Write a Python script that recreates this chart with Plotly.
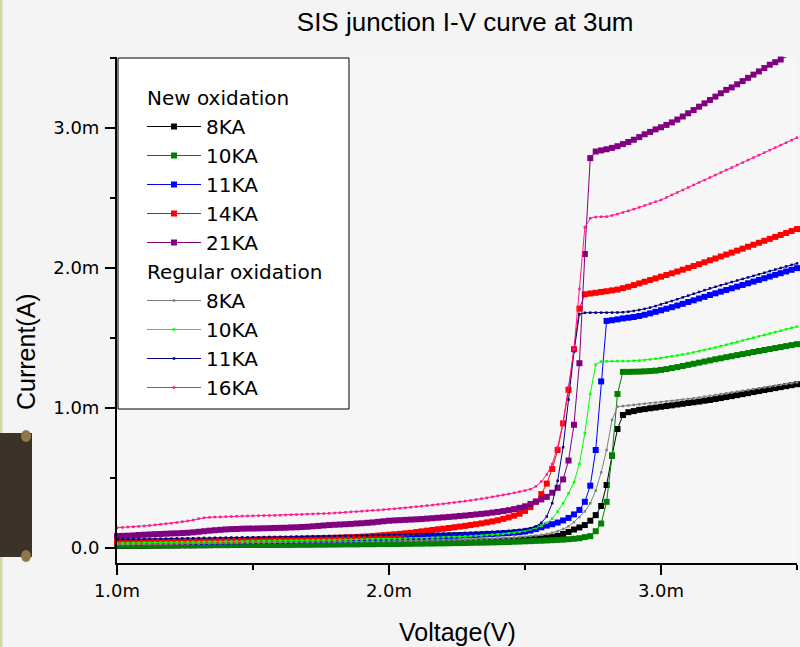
import plotly.graph_objects as go

# ---------------- data (voltage in mV, current in mA) ----------------
voltage_mV = [
    1.00, 1.02, 1.04, 1.06, 1.08, 1.10, 1.12, 1.14, 1.16, 1.18,
    1.20, 1.22, 1.24, 1.26, 1.28, 1.30, 1.32, 1.34, 1.36, 1.38,
    1.40, 1.42, 1.44, 1.46, 1.48, 1.50, 1.52, 1.54, 1.56, 1.58,
    1.60, 1.62, 1.64, 1.66, 1.68, 1.70, 1.72, 1.74, 1.76, 1.78,
    1.80, 1.82, 1.84, 1.86, 1.88, 1.90, 1.92, 1.94, 1.96, 1.98,
    2.00, 2.02, 2.04, 2.06, 2.08, 2.10, 2.12, 2.14, 2.16, 2.18,
    2.20, 2.22, 2.24, 2.26, 2.28, 2.30, 2.32, 2.34, 2.36, 2.38,
    2.40, 2.42, 2.44, 2.46, 2.48, 2.50, 2.52, 2.54, 2.56, 2.58,
    2.60, 2.62, 2.64, 2.66, 2.68, 2.70, 2.72, 2.74, 2.76, 2.78,
    2.80, 2.82, 2.84, 2.86, 2.88, 2.90, 2.92, 2.94, 2.96, 2.98,
    3.00, 3.02, 3.04, 3.06, 3.08, 3.10, 3.12, 3.14, 3.16, 3.18,
    3.20, 3.22, 3.24, 3.26, 3.28, 3.30, 3.32, 3.34, 3.36, 3.38,
    3.40, 3.42, 3.44, 3.46, 3.48, 3.50,
]

# New oxidation
new_8KA = [
    0.015, 0.015, 0.015, 0.016, 0.016, 0.016, 0.017, 0.017, 0.017, 0.018,
    0.018, 0.018, 0.019, 0.019, 0.019, 0.020, 0.020, 0.020, 0.021, 0.021,
    0.021, 0.022, 0.022, 0.022, 0.023, 0.023, 0.023, 0.024, 0.024, 0.024,
    0.025, 0.025, 0.025, 0.026, 0.026, 0.026, 0.027, 0.027, 0.027, 0.028,
    0.028, 0.029, 0.029, 0.030, 0.030, 0.031, 0.031, 0.032, 0.032, 0.033,
    0.033, 0.034, 0.034, 0.035, 0.035, 0.036, 0.037, 0.037, 0.038, 0.039,
    0.039, 0.040, 0.041, 0.042, 0.043, 0.044, 0.045, 0.046, 0.047, 0.049,
    0.050, 0.052, 0.054, 0.056, 0.058, 0.060, 0.063, 0.066, 0.069, 0.073,
    0.078, 0.087, 0.100, 0.115, 0.132, 0.147, 0.164, 0.195, 0.235, 0.300,
    0.450, 0.660, 0.850, 0.950, 0.970, 0.978, 0.987, 0.992, 0.998, 1.003,
    1.009, 1.014, 1.019, 1.025, 1.030, 1.036, 1.041, 1.046, 1.052, 1.057,
    1.064, 1.071, 1.078, 1.085, 1.092, 1.099, 1.106, 1.114, 1.121, 1.128,
    1.135, 1.142, 1.149, 1.156, 1.163, 1.170,
]
new_10KA = [
    0.017, 0.017, 0.017, 0.018, 0.018, 0.018, 0.018, 0.019, 0.019, 0.019,
    0.019, 0.019, 0.020, 0.020, 0.020, 0.020, 0.020, 0.021, 0.021, 0.021,
    0.021, 0.021, 0.022, 0.022, 0.022, 0.022, 0.022, 0.023, 0.023, 0.023,
    0.023, 0.023, 0.024, 0.024, 0.024, 0.024, 0.024, 0.025, 0.025, 0.025,
    0.025, 0.025, 0.026, 0.026, 0.026, 0.027, 0.027, 0.027, 0.028, 0.028,
    0.028, 0.029, 0.029, 0.030, 0.030, 0.031, 0.031, 0.032, 0.032, 0.033,
    0.033, 0.034, 0.035, 0.035, 0.036, 0.037, 0.038, 0.038, 0.039, 0.040,
    0.041, 0.042, 0.043, 0.045, 0.046, 0.048, 0.049, 0.051, 0.052, 0.054,
    0.056, 0.058, 0.060, 0.063, 0.066, 0.070, 0.078, 0.085, 0.120, 0.175,
    0.330, 0.660, 1.100, 1.258, 1.258, 1.259, 1.260, 1.262, 1.264, 1.267,
    1.272, 1.278, 1.285, 1.292, 1.300, 1.308, 1.316, 1.324, 1.332, 1.340,
    1.348, 1.355, 1.363, 1.370, 1.378, 1.385, 1.392, 1.400, 1.407, 1.414,
    1.421, 1.428, 1.435, 1.442, 1.449, 1.456,
]
new_11KA = [
    0.040, 0.040, 0.041, 0.041, 0.041, 0.042, 0.042, 0.042, 0.043, 0.043,
    0.043, 0.044, 0.044, 0.044, 0.045, 0.045, 0.045, 0.046, 0.046, 0.046,
    0.047, 0.047, 0.048, 0.048, 0.049, 0.049, 0.050, 0.050, 0.051, 0.051,
    0.052, 0.052, 0.053, 0.054, 0.054, 0.055, 0.056, 0.056, 0.057, 0.058,
    0.059, 0.060, 0.061, 0.062, 0.063, 0.064, 0.065, 0.066, 0.067, 0.068,
    0.069, 0.071, 0.072, 0.073, 0.075, 0.076, 0.078, 0.080, 0.081, 0.083,
    0.084, 0.086, 0.087, 0.089, 0.090, 0.092, 0.094, 0.096, 0.098, 0.100,
    0.103, 0.105, 0.107, 0.110, 0.113, 0.118, 0.125, 0.135, 0.148, 0.160,
    0.170, 0.182, 0.197, 0.215, 0.240, 0.272, 0.330, 0.445, 0.700, 1.190,
    1.622, 1.627, 1.633, 1.640, 1.645, 1.650, 1.657, 1.666, 1.676, 1.687,
    1.698, 1.709, 1.720, 1.732, 1.744, 1.757, 1.769, 1.782, 1.794, 1.807,
    1.819, 1.831, 1.843, 1.855, 1.867, 1.879, 1.891, 1.903, 1.915, 1.927,
    1.939, 1.951, 1.963, 1.975, 1.987, 1.999,
]
new_14KA = [
    0.038, 0.039, 0.040, 0.041, 0.042, 0.043, 0.044, 0.044, 0.045, 0.045,
    0.046, 0.047, 0.047, 0.048, 0.049, 0.050, 0.051, 0.051, 0.052, 0.053,
    0.054, 0.055, 0.055, 0.056, 0.057, 0.058, 0.059, 0.060, 0.061, 0.062,
    0.063, 0.064, 0.065, 0.066, 0.067, 0.068, 0.069, 0.070, 0.071, 0.072,
    0.073, 0.074, 0.076, 0.077, 0.079, 0.081, 0.083, 0.086, 0.089, 0.092,
    0.095, 0.098, 0.101, 0.105, 0.109, 0.114, 0.119, 0.124, 0.129, 0.134,
    0.138, 0.143, 0.148, 0.153, 0.158, 0.164, 0.170, 0.176, 0.183, 0.190,
    0.198, 0.208, 0.219, 0.231, 0.245, 0.265, 0.292, 0.330, 0.385, 0.460,
    0.565, 0.700, 0.890, 1.130, 1.420, 1.710, 1.812, 1.818, 1.823, 1.829,
    1.834, 1.840, 1.846, 1.856, 1.866, 1.878, 1.890, 1.902, 1.914, 1.926,
    1.938, 1.950, 1.962, 1.975, 1.988, 2.001, 2.014, 2.027, 2.041, 2.055,
    2.068, 2.082, 2.096, 2.110, 2.124, 2.138, 2.152, 2.166, 2.180, 2.194,
    2.208, 2.222, 2.236, 2.250, 2.264, 2.278,
]
new_21KA = [
    0.086, 0.087, 0.088, 0.090, 0.093, 0.095, 0.097, 0.099, 0.100, 0.102,
    0.104, 0.105, 0.107, 0.109, 0.112, 0.116, 0.120, 0.124, 0.127, 0.130,
    0.133, 0.135, 0.136, 0.138, 0.139, 0.139, 0.140, 0.141, 0.142, 0.143,
    0.144, 0.145, 0.147, 0.148, 0.150, 0.152, 0.155, 0.158, 0.161, 0.164,
    0.166, 0.168, 0.170, 0.172, 0.175, 0.177, 0.180, 0.183, 0.187, 0.191,
    0.195, 0.197, 0.199, 0.201, 0.203, 0.205, 0.207, 0.210, 0.213, 0.216,
    0.219, 0.222, 0.225, 0.229, 0.232, 0.236, 0.240, 0.244, 0.248, 0.253,
    0.258, 0.264, 0.270, 0.278, 0.287, 0.298, 0.315, 0.332, 0.347, 0.365,
    0.395, 0.430, 0.490, 0.625, 0.880, 1.320, 2.100, 2.785, 2.832, 2.840,
    2.848, 2.858, 2.870, 2.885, 2.900, 2.916, 2.935, 2.955, 2.972, 2.990,
    3.005, 3.022, 3.040, 3.060, 3.082, 3.105, 3.128, 3.152, 3.176, 3.200,
    3.224, 3.248, 3.272, 3.290, 3.312, 3.335, 3.358, 3.381, 3.404, 3.428,
    3.452, 3.470, 3.489, 3.508, 3.526, 3.545,
]

# Regular oxidation
reg_8KA = [
    0.025, 0.025, 0.026, 0.026, 0.027, 0.027, 0.028, 0.028, 0.029, 0.029,
    0.030, 0.030, 0.031, 0.031, 0.032, 0.032, 0.033, 0.033, 0.034, 0.034,
    0.035, 0.035, 0.036, 0.036, 0.037, 0.037, 0.038, 0.038, 0.039, 0.039,
    0.040, 0.040, 0.041, 0.041, 0.042, 0.042, 0.043, 0.043, 0.044, 0.044,
    0.045, 0.045, 0.046, 0.046, 0.047, 0.047, 0.048, 0.048, 0.049, 0.049,
    0.050, 0.051, 0.051, 0.052, 0.053, 0.053, 0.054, 0.055, 0.055, 0.056,
    0.057, 0.058, 0.059, 0.060, 0.061, 0.062, 0.063, 0.064, 0.066, 0.067,
    0.069, 0.071, 0.073, 0.075, 0.078, 0.081, 0.085, 0.089, 0.094, 0.100,
    0.108, 0.120, 0.135, 0.155, 0.185, 0.220, 0.262, 0.320, 0.410, 0.540,
    0.700, 0.915, 1.010, 1.014, 1.018, 1.022, 1.026, 1.030, 1.034, 1.038,
    1.042, 1.046, 1.050, 1.054, 1.059, 1.064, 1.069, 1.075, 1.081, 1.087,
    1.093, 1.099, 1.105, 1.111, 1.117, 1.123, 1.129, 1.135, 1.141, 1.147,
    1.153, 1.159, 1.165, 1.171, 1.177, 1.183,
]
reg_10KA = [
    0.035, 0.036, 0.036, 0.037, 0.037, 0.038, 0.038, 0.039, 0.039, 0.040,
    0.040, 0.041, 0.042, 0.042, 0.043, 0.043, 0.044, 0.045, 0.045, 0.046,
    0.047, 0.047, 0.048, 0.048, 0.049, 0.050, 0.050, 0.051, 0.051, 0.052,
    0.053, 0.053, 0.054, 0.054, 0.055, 0.056, 0.056, 0.057, 0.057, 0.058,
    0.058, 0.059, 0.059, 0.060, 0.060, 0.061, 0.062, 0.062, 0.063, 0.063,
    0.064, 0.065, 0.066, 0.067, 0.068, 0.069, 0.070, 0.072, 0.073, 0.074,
    0.076, 0.078, 0.079, 0.081, 0.083, 0.085, 0.087, 0.089, 0.092, 0.095,
    0.098, 0.102, 0.106, 0.110, 0.116, 0.123, 0.132, 0.144, 0.158, 0.180,
    0.210, 0.260, 0.320, 0.390, 0.470, 0.600, 0.820, 1.100, 1.310, 1.332,
    1.334, 1.335, 1.335, 1.335, 1.335, 1.337, 1.338, 1.342, 1.347, 1.352,
    1.357, 1.363, 1.369, 1.375, 1.382, 1.389, 1.397, 1.405, 1.414, 1.423,
    1.432, 1.442, 1.452, 1.462, 1.472, 1.482, 1.492, 1.502, 1.512, 1.522,
    1.532, 1.542, 1.552, 1.562, 1.572, 1.582,
]
reg_11KA = [
    0.062, 0.063, 0.063, 0.064, 0.064, 0.065, 0.066, 0.066, 0.067, 0.067,
    0.068, 0.069, 0.069, 0.070, 0.070, 0.071, 0.072, 0.072, 0.073, 0.073,
    0.074, 0.075, 0.075, 0.076, 0.076, 0.077, 0.077, 0.078, 0.079, 0.079,
    0.080, 0.080, 0.081, 0.082, 0.082, 0.083, 0.084, 0.084, 0.085, 0.086,
    0.086, 0.087, 0.088, 0.088, 0.089, 0.090, 0.090, 0.091, 0.092, 0.092,
    0.093, 0.094, 0.095, 0.096, 0.097, 0.098, 0.099, 0.100, 0.101, 0.102,
    0.103, 0.104, 0.105, 0.106, 0.108, 0.109, 0.111, 0.112, 0.114, 0.116,
    0.118, 0.120, 0.123, 0.126, 0.130, 0.135, 0.142, 0.155, 0.180, 0.225,
    0.320, 0.480, 0.720, 1.060, 1.400, 1.670, 1.680, 1.681, 1.681, 1.681,
    1.681, 1.681, 1.682, 1.684, 1.688, 1.693, 1.700, 1.708, 1.717, 1.728,
    1.740, 1.752, 1.764, 1.777, 1.790, 1.803, 1.816, 1.829, 1.842, 1.855,
    1.866, 1.877, 1.888, 1.900, 1.911, 1.922, 1.933, 1.944, 1.955, 1.966,
    1.978, 1.989, 2.000, 2.011, 2.022, 2.033,
]
reg_16KA = [
    0.145, 0.147, 0.150, 0.152, 0.154, 0.157, 0.161, 0.165, 0.169, 0.173,
    0.177, 0.182, 0.188, 0.193, 0.200, 0.210, 0.216, 0.219, 0.221, 0.222,
    0.224, 0.225, 0.227, 0.228, 0.229, 0.230, 0.231, 0.232, 0.232, 0.233,
    0.234, 0.236, 0.237, 0.239, 0.240, 0.242, 0.243, 0.245, 0.246, 0.248,
    0.250, 0.252, 0.255, 0.258, 0.260, 0.263, 0.266, 0.269, 0.271, 0.274,
    0.277, 0.280, 0.284, 0.287, 0.291, 0.295, 0.299, 0.303, 0.307, 0.311,
    0.315, 0.320, 0.325, 0.330, 0.335, 0.340, 0.346, 0.352, 0.358, 0.365,
    0.372, 0.379, 0.386, 0.394, 0.402, 0.410, 0.420, 0.440, 0.475, 0.525,
    0.600, 0.720, 0.900, 1.150, 1.420, 1.850, 2.290, 2.355, 2.364, 2.366,
    2.367, 2.375, 2.385, 2.396, 2.408, 2.420, 2.433, 2.446, 2.460, 2.473,
    2.486, 2.504, 2.522, 2.539, 2.557, 2.575, 2.593, 2.611, 2.628, 2.646,
    2.664, 2.682, 2.700, 2.717, 2.735, 2.753, 2.771, 2.789, 2.806, 2.824,
    2.842, 2.860, 2.878, 2.895, 2.913, 2.931,
]

series_names = ["8KA", "10KA", "11KA", "14KA", "21KA", "8KA", "10KA", "11KA", "16KA"]
series_groups = ["New oxidation"] * 5 + ["Regular oxidation"] * 4
series_values = [new_8KA, new_10KA, new_11KA, new_14KA, new_21KA,
                 reg_8KA, reg_10KA, reg_11KA, reg_16KA]
series_colors = ["#000000", "#008000", "#0000ff", "#ff0000", "#800080",
                 "#808080", "#00ff00", "#000080", "#ff1a8c"]

x_tick_vals_mV = [1.0, 2.0, 3.0]
y_tick_vals_mA = [0.0, 1.0, 2.0, 3.0]

# ---------------- figure ----------------
FONT = "Liberation Sans, Arial, sans-serif"
WIDE = "DejaVu Sans, Verdana, sans-serif"
W, H = 800, 647
ML, MR, MT, MB = 117, 3, 57, 84
PW, PH = W - ML - MR, H - MT - MB


def px_x(px):
    return (px - ML) / PW


def px_y(py):
    return (H - MB - py) / PH


xr = [1.0e-3, 3.5e-3]
yr = [-0.107e-3, 3.507e-3]

fig = go.Figure()
for name, grp, vals, col in zip(series_names, series_groups, series_values, series_colors):
    is_new = grp.startswith("New")
    n = min(len(vals), len(voltage_mV))
    fig.add_trace(go.Scatter(
        x=[v * 1e-3 for v in voltage_mV[:n]],
        y=[c * 1e-3 for c in vals[:n]],
        mode="lines+markers",
        name=name,
        legendgroup=grp,
        legendgrouptitle=dict(text=grp, font=dict(size=20, color="black", family=WIDE)),
        line=dict(color=col, width=1),
        marker=dict(symbol="square", size=6 if is_new else 2.5, color=col),
        cliponaxis=False,
    ))

axis_common = dict(showgrid=False, zeroline=False, showline=True, linecolor="black",
                   linewidth=2, tickcolor="black", tickwidth=1.5,
                   tickfont=dict(size=18, color="black", family=WIDE))

fig.update_layout(
    width=W, height=H,
    margin=dict(l=ML, r=MR, t=MT, b=MB, pad=0),
    paper_bgcolor="#f4f4f4",
    plot_bgcolor="#f6f6f6",
    font=dict(family=FONT, color="black"),
    showlegend=True,
    title=dict(text="SIS junction I-V curve at 3um", font=dict(size=26, color="black", family=FONT),
               xref="paper", x=0.512, xanchor="center", yref="container", y=1 - 22 / H, yanchor="middle"),
    xaxis=dict(range=xr, tickvals=[v * 1e-3 for v in x_tick_vals_mV], tickformat=".2s",
               ticks="outside", ticklen=10,
               minor=dict(dtick=0.5e-3, tick0=1.0e-3, ticks="outside", ticklen=5, tickwidth=1.5, tickcolor="black"),
               **axis_common),
    yaxis=dict(range=yr, tickvals=[v * 1e-3 for v in y_tick_vals_mA], tickformat=".2s",
               ticks="outside", ticklen=10, ticklabelstandoff=2,
               minor=dict(dtick=0.5e-3, tick0=0, ticks="outside", ticklen=5, tickwidth=1.5, tickcolor="black"),
               **axis_common),
    xaxis2=dict(range=xr, overlaying="x", side="top", anchor="y",
                tickvals=[v * 1e-3 for v in x_tick_vals_mV], ticks="inside", ticklen=10,
                showticklabels=False,
                minor=dict(dtick=0.5e-3, tick0=1.0e-3, ticks="inside", ticklen=5, tickwidth=1.5, tickcolor="black"),
                **axis_common),
    yaxis2=dict(range=yr, overlaying="y", side="right", anchor="x",
                tickvals=[v * 1e-3 for v in y_tick_vals_mA], ticks="inside", ticklen=10,
                showticklabels=False,
                minor=dict(dtick=0.5e-3, tick0=0, ticks="inside", ticklen=7, tickwidth=1.5, tickcolor="black"),
                **axis_common),
    legend=dict(x=px_x(142), y=px_y(78), xanchor="left", yanchor="top",
                bgcolor="rgba(0,0,0,0)", borderwidth=0,
                font=dict(size=20, color="black", family=WIDE),
                tracegroupgap=0, traceorder="grouped", itemwidth=54),
    annotations=[
        dict(text="Voltage(V)", xref="paper", yref="paper", x=0.5, y=px_y(632),
             xanchor="center", yanchor="middle", showarrow=False,
             font=dict(size=25, color="black", family=FONT)),
        dict(text="Current(A)", xref="paper", yref="paper", x=px_x(26), y=px_y(352),
             xanchor="center", yanchor="middle", showarrow=False, textangle=-90,
             font=dict(size=25, color="black", family=FONT)),
    ],
    shapes=[
        # legend frame
        dict(type="rect", xref="paper", yref="paper", x0=px_x(118), x1=px_x(349), y0=px_y(409), y1=px_y(58),
             fillcolor="white", line=dict(color="black", width=1), layer="above"),
        # slide decorations at left edge
        dict(type="rect", xref="paper", yref="paper", x0=px_x(0), x1=px_x(2.5), y0=px_y(647), y1=px_y(0),
             fillcolor="#cdd9a8", line=dict(width=0), layer="below"),
        dict(type="rect", xref="paper", yref="paper", x0=px_x(0), x1=px_x(32), y0=px_y(557), y1=px_y(433),
             fillcolor="#3b3229", line=dict(width=0), layer="below"),
        dict(type="circle", xref="paper", yref="paper", x0=px_x(21), x1=px_x(31), y0=px_y(442), y1=px_y(430),
             fillcolor="#8f7748", line=dict(width=0), layer="below"),
        dict(type="circle", xref="paper", yref="paper", x0=px_x(21), x1=px_x(31), y0=px_y(562), y1=px_y(550),
             fillcolor="#8f7748", line=dict(width=0), layer="below"),
    ],
)

fig.write_html("out.html")
